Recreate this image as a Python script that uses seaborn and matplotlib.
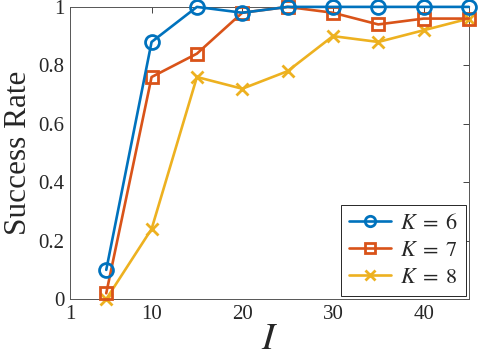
import pandas as pd
import matplotlib
matplotlib.use("Agg")
import matplotlib.pyplot as plt
import seaborn as sns

sns.set_theme(style="white")
plt.rcParams['font.family'] = ['Liberation Serif', 'DejaVu Serif']
plt.rcParams['mathtext.fontset'] = 'stix'

# --- data ---
iterations = [5, 10, 15, 20, 25, 30, 35, 40, 45]
rate_k6 = [0.10, 0.88, 1.00, 0.98, 1.00, 1.00, 1.00, 1.00, 1.00]
rate_k7 = [0.02, 0.76, 0.84, 0.98, 1.00, 0.98, 0.94, 0.96, 0.96]
rate_k8 = [0.00, 0.24, 0.76, 0.72, 0.78, 0.90, 0.88, 0.92, 0.96]
labels = [r'$K\;=\;6$', r'$K\;=\;7$', r'$K\;=\;8$']

# MATLAB default colours
colors = ['#0072BD', '#D95319', '#EDB120']
markers = ['o', 's', 'x']
msizes = [10, 9, 9]

fig = plt.figure(figsize=(4.78, 3.63), dpi=100)
ax = fig.add_axes([0.1464, 0.176, 0.8346, 0.805])

for i, (vals, lab, c, m, ms) in enumerate(zip([rate_k6, rate_k7, rate_k8], labels, colors, markers, msizes)):
    sns.lineplot(x=iterations, y=vals, ax=ax, label=lab, color=c,
                 marker=m, markersize=ms, markerfacecolor='none',
                 markeredgecolor=c, markeredgewidth=2.0, linewidth=1.9,
                 clip_on=False, zorder=5 - i)

ax.set_xlim(1, 45)
ax.set_ylim(0, 1)
ax.set_xticks([1, 10, 20, 30, 40])
ax.set_yticks([0, 0.2, 0.4, 0.6, 0.8, 1])
ax.set_yticklabels(['0', '0.2', '0.4', '0.6', '0.8', '1'])
ax.tick_params(direction='in', length=4, width=0.6, color='#262626',
               top=True, right=True, labelsize=15, pad=4, labelcolor='#262626')
for sp in ax.spines.values():
    sp.set_visible(True)
    sp.set_color('#555555')
    sp.set_linewidth(0.7)

ax.set_xlabel('$I$', fontsize=28, labelpad=-2, color='#262626')
ax.set_ylabel('Success Rate', fontsize=22.5, labelpad=4, color='#262626')
ax.grid(False)

leg = ax.legend(loc='lower right', fontsize=16, frameon=True, fancybox=False,
                edgecolor='#262626', framealpha=1, borderpad=0.35,
                handlelength=1.9, handletextpad=0.4, labelspacing=0.3,
                borderaxespad=0.15, markerscale=0.75)
leg.get_frame().set_linewidth(0.7)
leg.set_zorder(10)

fig.savefig('out.png', dpi=100)
